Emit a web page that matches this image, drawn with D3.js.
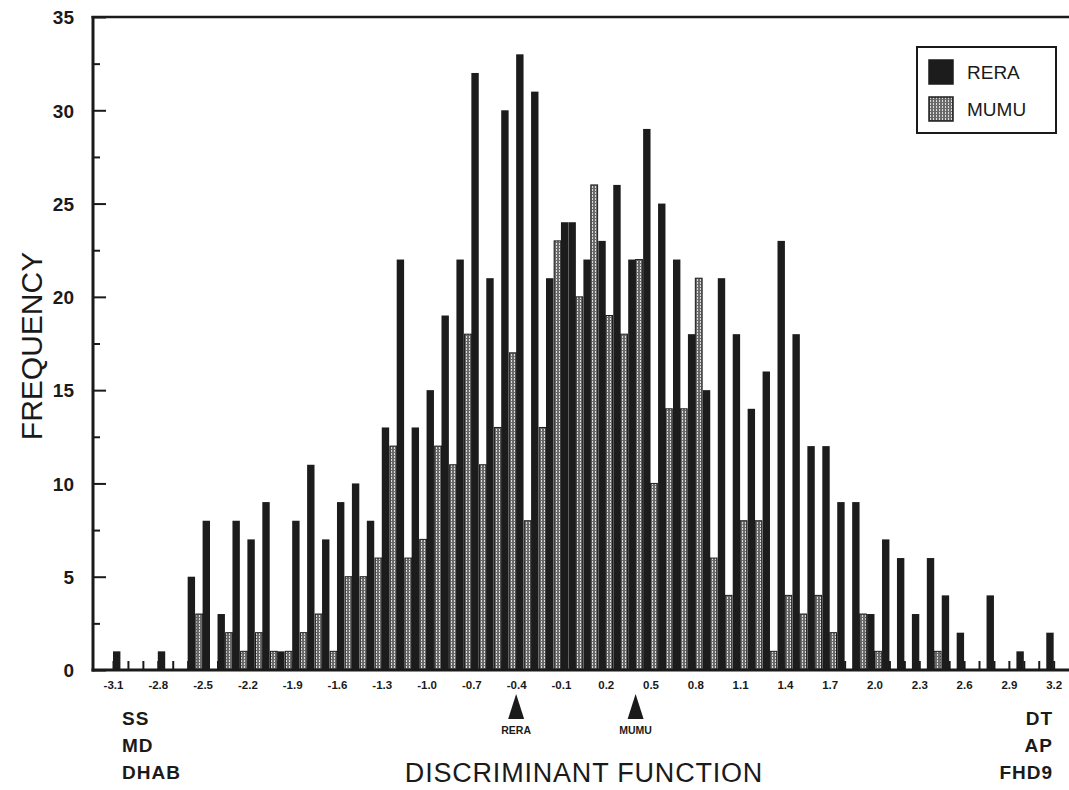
<!DOCTYPE html>
<html>
<head>
<meta charset="utf-8">
<script src="https://cdn.jsdelivr.net/npm/d3@7"></script>
<style>
	body { margin: 0; background: #fff; }
	svg { display: block; font-family: "Liberation Sans", Arial, sans-serif; }
	.xlab text { font-size: 11.5px; font-weight: bold; fill: #1a1a1a; }
	.ylab text { font-size: 19px; font-weight: bold; fill: #1a1a1a; }
	.tk line { stroke: #1a1a1a; stroke-width: 2; }
</style>
</head>
<body>
<div id="chart"></div>
<script>
	// bins of the discriminant function score
	var bins = [-3.1, -3.0, -2.9, -2.8, -2.7, -2.6, -2.5, -2.4, -2.3, -2.2, -2.1, -2.0, -1.9, -1.8, -1.7, -1.6,
		-1.5, -1.4, -1.3, -1.2, -1.1, -1.0, -0.9, -0.8, -0.7, -0.6, -0.5, -0.4, -0.3, -0.2, -0.1,
		0.0, 0.1, 0.2, 0.3, 0.4, 0.5, 0.6, 0.7, 0.8, 0.9, 1.0, 1.1, 1.2, 1.3, 1.4, 1.5, 1.6,
		1.7, 1.8, 1.9, 2.0, 2.1, 2.2, 2.3, 2.4, 2.5, 2.6, 2.7, 2.8, 2.9, 3.0, 3.1, 3.2];

	var rera = [1, 0, 0, 1, 0, 5, 8, 3, 8, 7, 9, 1, 8, 11, 7, 9,
		10, 8, 13, 22, 13, 15, 19, 22, 32, 21, 30, 33, 31, 21, 24,
		24, 22, 23, 26, 22, 29, 25, 22, 18, 15, 21, 18, 14, 16, 23, 18, 12,
		12, 9, 9, 3, 7, 6, 3, 6, 4, 2, 0, 4, 0, 1, 0, 2];

	var mumu = [0, 0, 0, 0, 0, 0, 3, 0, 2, 1, 2, 1, 1, 2, 3, 1,
		5, 5, 6, 12, 6, 7, 12, 11, 18, 11, 13, 17, 8, 13, 23,
		20, 26, 19, 18, 22, 10, 14, 14, 21, 6, 4, 8, 8, 1, 4, 3, 4,
		2, 0, 3, 1, 0, 0, 0, 1, 0, 0, 0, 0, 0, 0, 0, 0];

	var xTickLabels = ["-3.1", "-2.8", "-2.5", "-2.2", "-1.9", "-1.6", "-1.3", "-1.0", "-0.7", "-0.4", "-0.1",
		"0.2", "0.5", "0.8", "1.1", "1.4", "1.7", "2.0", "2.3", "2.6", "2.9", "3.2"];
	var yTicks = [0, 5, 10, 15, 20, 25, 30, 35];
	var yMinorTicks = [2.5, 7.5, 12.5, 17.5, 22.5, 27.5, 32.5];

	var seriesNames = ["RERA", "MUMU"];
	var means = [{name: "RERA", value: -0.4}, {name: "MUMU", value: 0.4}];
	var leftGroups = ["SS", "MD", "DHAB"];
	var rightGroups = ["DT", "AP", "FHD9"];

	var width = 1069, height = 790;

	var svg = d3.select("#chart").append("svg")
		.attr("width", width)
		.attr("height", height);

	// hatch for the MUMU bars
	var pat = svg.append("defs").append("pattern")
		.attr("id", "hatch")
		.attr("patternUnits", "userSpaceOnUse")
		.attr("width", 3)
		.attr("height", 3);
	pat.append("rect").attr("width", 3).attr("height", 3).attr("fill", "#6a6a6a");
	pat.append("rect").attr("x", 1).attr("width", 1).attr("height", 2).attr("fill", "#dcdcdc");

	// set the ranges
	var x = d3.scaleLinear().domain([-3.234, 3.3]).range([93, 1068.6]);
	var y = d3.scaleLinear().domain([0, 35]).range([670, 17]);

	var wR = 7.4, wM = 6.8;

	// small ticks at every bin (drawn first, bars cover them)
	svg.append("g")
		.attr("class", "tk")
		.attr("transform", "translate(0," + y(0) + ")")
		.call(d3.axisBottom(x).tickValues(bins).tickSize(-9).tickFormat(""))
		.select(".domain").remove();

	var data = bins.map(function(b, i) {
		return {bin: b, rera: rera[i], mumu: mumu[i]};
	});

	// RERA bars sit on the side towards zero, MUMU on the outer side
	svg.append("g").selectAll("rect")
		.data(data.filter(function(d) { return d.rera > 0; }))
		.enter().append("rect")
		.attr("x", function(d) { return d.bin < 0 ? x(d.bin) : x(d.bin) - wR; })
		.attr("y", function(d) { return y(d.rera); })
		.attr("width", wR)
		.attr("height", function(d) { return y(0) - y(d.rera); })
		.attr("fill", "#1c1c1c");

	svg.append("g").selectAll("rect")
		.data(data.filter(function(d) { return d.mumu > 0; }))
		.enter().append("rect")
		.attr("x", function(d) { return d.bin < 0 ? x(d.bin) - wM : x(d.bin); })
		.attr("y", function(d) { return y(d.mumu); })
		.attr("width", wM)
		.attr("height", function(d) { return y(0) - y(d.mumu); })
		.attr("fill", "url(#hatch)")
		.attr("stroke", "#1c1c1c")
		.attr("stroke-width", 1);

	// frame lines
	svg.append("line").attr("x1", 93).attr("x2", 93).attr("y1", 16).attr("y2", 671.5)
		.attr("stroke", "#1a1a1a").attr("stroke-width", 3);
	svg.append("line").attr("x1", 91.5).attr("x2", 1069).attr("y1", y(0)).attr("y2", y(0))
		.attr("stroke", "#1a1a1a").attr("stroke-width", 3);
	svg.append("line").attr("x1", 91.5).attr("x2", 1069).attr("y1", y(35)).attr("y2", y(35))
		.attr("stroke", "#1a1a1a").attr("stroke-width", 2.5);

	// y ticks, pointing inwards
	svg.append("g")
		.attr("class", "tk")
		.attr("transform", "translate(93,0)")
		.call(d3.axisRight(y).tickValues(yTicks).tickSize(13).tickFormat(""))
		.select(".domain").remove();
	svg.append("g")
		.attr("class", "tk")
		.attr("transform", "translate(93,0)")
		.call(d3.axisRight(y).tickValues(yMinorTicks).tickSize(7).tickFormat(""))
		.select(".domain").remove();

	// y labels
	var yl = svg.append("g")
		.attr("class", "ylab")
		.attr("transform", "translate(93,0)")
		.call(d3.axisLeft(y).tickValues(yTicks).tickSize(0).tickPadding(19));
	yl.select(".domain").remove();
	yl.selectAll("text").attr("font-family", null).attr("font-size", null).attr("dy", "0.36em");

	// x labels
	var xl = svg.append("g")
		.attr("class", "xlab")
		.attr("transform", "translate(0," + y(0) + ")")
		.call(d3.axisBottom(x)
			.tickValues(xTickLabels.map(Number))
			.tickSize(0)
			.tickPadding(11)
			.tickFormat(function(d, i) { return xTickLabels[i]; }));
	xl.select(".domain").remove();
	xl.selectAll("text").attr("font-family", null).attr("font-size", null);

	// axis titles
	svg.append("text")
		.attr("transform", "translate(42,346) rotate(-90)")
		.attr("text-anchor", "middle")
		.attr("font-size", 30)
		.attr("fill", "#1a1a1a")
		.text("FREQUENCY");
	svg.append("text")
		.attr("x", 584)
		.attr("y", 782)
		.attr("text-anchor", "middle")
		.attr("font-size", 27)
		.attr("letter-spacing", 0.8)
		.attr("fill", "#1a1a1a")
		.text("DISCRIMINANT FUNCTION");

	// group labels at the two ends
	svg.append("g").selectAll("text")
		.data(leftGroups)
		.enter().append("text")
		.attr("x", 122)
		.attr("y", function(d, i) { return 725 + i * 27; })
		.attr("font-size", 19)
		.attr("font-weight", "bold")
		.attr("letter-spacing", 1)
		.attr("fill", "#1a1a1a")
		.text(function(d) { return d; });
	svg.append("g").selectAll("text")
		.data(rightGroups)
		.enter().append("text")
		.attr("x", 1053)
		.attr("y", function(d, i) { return 725 + i * 27; })
		.attr("text-anchor", "end")
		.attr("font-size", 19)
		.attr("font-weight", "bold")
		.attr("letter-spacing", 1)
		.attr("fill", "#1a1a1a")
		.text(function(d) { return d; });

	// mean markers
	var mk = svg.append("g").selectAll("g")
		.data(means)
		.enter().append("g")
		.attr("transform", function(d) { return "translate(" + x(d.value) + ",0)"; });
	mk.append("path")
		.attr("d", "M0,694L8,719L-8,719Z")
		.attr("fill", "#1a1a1a");
	mk.append("text")
		.attr("y", 734)
		.attr("text-anchor", "middle")
		.attr("font-size", 10.5)
		.attr("font-weight", "bold")
		.attr("fill", "#1a1a1a")
		.text(function(d) { return d.name; });

	// legend
	var lg = svg.append("g").attr("transform", "translate(917,47)");
	lg.append("rect")
		.attr("width", 139).attr("height", 86)
		.attr("fill", "#fff").attr("stroke", "#1a1a1a").attr("stroke-width", 2);
	var li = lg.selectAll(".li")
		.data(seriesNames)
		.enter().append("g")
		.attr("transform", function(d, i) { return "translate(12," + (13 + i * 37) + ")"; });
	li.append("rect")
		.attr("width", 24).attr("height", 24)
		.attr("fill", function(d, i) { return i === 0 ? "#1c1c1c" : "url(#hatch)"; })
		.attr("stroke", "#1c1c1c").attr("stroke-width", 1.5);
	li.append("text")
		.attr("x", 38).attr("y", 19)
		.attr("font-size", 19)
		.attr("fill", "#1a1a1a")
		.text(function(d) { return d; });
</script>
</body>
</html>
